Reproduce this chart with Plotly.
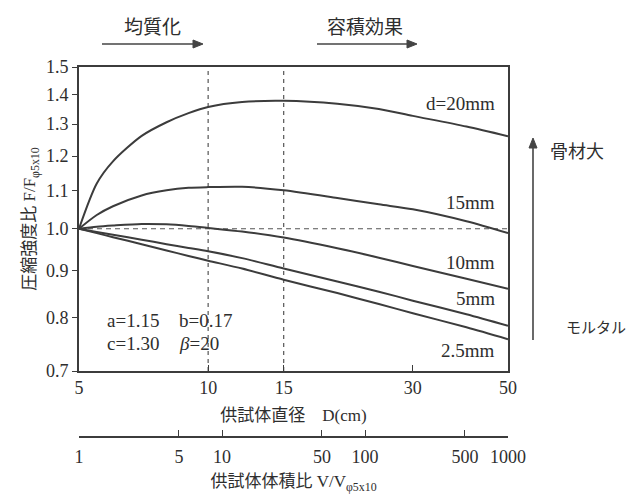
import math
import plotly.graph_objects as go

# ---- data ----
diameter_cm = [5, 5.5, 6, 7, 8, 9, 10, 12, 15, 20, 25, 30, 40, 50]
ratio_20mm = [1.000, 1.120, 1.184, 1.262, 1.306, 1.336, 1.357, 1.374, 1.378, 1.368, 1.350, 1.327, 1.292, 1.261]
ratio_15mm = [1.000, 1.035, 1.058, 1.087, 1.101, 1.108, 1.110, 1.111, 1.101, 1.080, 1.063, 1.050, 1.019, 0.989]
ratio_10mm = [1.000, 1.005, 1.008, 1.012, 1.011, 1.007, 1.002, 0.993, 0.978, 0.952, 0.930, 0.911, 0.882, 0.860]
ratio_5mm = [1.000, 0.992, 0.985, 0.973, 0.962, 0.953, 0.945, 0.929, 0.905, 0.876, 0.854, 0.835, 0.807, 0.784]
ratio_2_5mm = [1.000, 0.989, 0.979, 0.962, 0.947, 0.934, 0.923, 0.905, 0.880, 0.851, 0.828, 0.809, 0.781, 0.758]
series_labels = ["d=20mm", "15mm", "10mm", "5mm", "2.5mm"]

guide_diameters = [10, 15]
reference_ratio = 1.0
d_ticks = [5, 10, 15, 30, 50]
y_ticks = [0.7, 0.8, 0.9, 1.0, 1.1, 1.2, 1.3, 1.4, 1.5]
v_ticks = [1, 5, 10, 50, 100, 500, 1000]

LINE = "#3c3c3c"
TXT = "#2e2e2e"
ARROW = "#444444"
SERIF = "Liberation Serif, Noto Sans CJK JP, serif"
CJK = "Noto Sans CJK JP, sans-serif"

fig = go.Figure()

# dashed guides
for gd in guide_diameters:
    fig.add_trace(go.Scatter(x=[gd, gd], y=[y_ticks[0], y_ticks[-1]], mode="lines",
                             line=dict(color="#555", width=1.2, dash="4px,4px"),
                             hoverinfo="skip", showlegend=False))
fig.add_trace(go.Scatter(x=[d_ticks[0], d_ticks[-1]], y=[reference_ratio, reference_ratio], mode="lines",
                         line=dict(color="#555", width=1.2, dash="5px,4px"),
                         hoverinfo="skip", showlegend=False))

for name, ys in zip(series_labels, [ratio_20mm, ratio_15mm, ratio_10mm, ratio_5mm, ratio_2_5mm]):
    fig.add_trace(go.Scatter(x=diameter_cm, y=ys, mode="lines", name=name,
                             line=dict(color=LINE, width=2, shape="spline", smoothing=0.8),
                             showlegend=False))

# dummy trace for the volume-ratio axis
fig.add_trace(go.Scatter(x=[v_ticks[0], v_ticks[-1]], y=[1, 1], xaxis="x2", yaxis="y",
                         mode="markers", marker=dict(opacity=0), hoverinfo="skip", showlegend=False))

# plot-area geometry (pixels)
L, R, T, B2 = 79, 508, 67, 437
PW, PH = R - L, B2 - T
def px(xp):
    return (xp - L) / PW
def py(yp):
    return (B2 - yp) / PH

ann = []
# curve labels
label_y = [103, 202, 262, 298, 350]
for txt, yp in zip(series_labels, label_y):
    ann.append(dict(text=txt, x=px(497), y=py(yp), xref="paper", yref="paper",
                    xanchor="right", yanchor="middle", showarrow=False,
                    font=dict(family=SERIF, size=19, color=TXT)))
# parameters
for txt, xp, yp in [("a=1.15", 105, 320), ("b=0.17", 177, 320),
                    ("c=1.30", 105, 343), ("<i>β</i>=20", 177, 343)]:
    ann.append(dict(text=txt, x=px(xp), y=py(yp), xref="paper", yref="paper",
                    xanchor="left", yanchor="middle", showarrow=False,
                    font=dict(family=SERIF, size=19, color=TXT)))
# top labels
ann.append(dict(text="均質化", x=px(152), y=py(25), xref="paper", yref="paper",
                xanchor="center", yanchor="middle",
                showarrow=False, font=dict(family=CJK, size=19, color=TXT)))
ann.append(dict(text="容積効果", x=px(365), y=py(25), xref="paper", yref="paper",
                xanchor="center", yanchor="middle",
                showarrow=False, font=dict(family=CJK, size=19, color=TXT)))
# right labels
ann.append(dict(text="骨材大", x=px(548), y=py(150), xref="paper", yref="paper",
                xanchor="left", yanchor="middle", showarrow=False,
                font=dict(family=CJK, size=18, color=TXT)))
ann.append(dict(text="モルタル", x=px(564), y=py(326), xref="paper", yref="paper",
                xanchor="left", yanchor="middle", showarrow=False,
                font=dict(family=CJK, size=15, color=TXT)))

# arrows as shapes (paper coordinates)
shapes = []
def harrow(x0, x1, y, head=10, half=4):
    shapes.append(dict(type="line", xref="paper", yref="paper",
                       x0=px(x0), x1=px(x1 - head + 1), y0=py(y), y1=py(y),
                       line=dict(color=ARROW, width=1.6)))
    path = (f"M {px(x1)},{py(y)} L {px(x1 - head)},{py(y - half)} "
            f"L {px(x1 - head)},{py(y + half)} Z")
    shapes.append(dict(type="path", xref="paper", yref="paper", path=path,
                       fillcolor=ARROW, line=dict(color=ARROW, width=1)))
def varrow(x, y_tail, y_head, head=10, half=4):
    shapes.append(dict(type="line", xref="paper", yref="paper",
                       x0=px(x), x1=px(x), y0=py(y_tail), y1=py(y_head + head - 1),
                       line=dict(color=ARROW, width=1.6)))
    path = (f"M {px(x)},{py(y_head)} L {px(x - half)},{py(y_head + head)} "
            f"L {px(x + half)},{py(y_head + head)} Z")
    shapes.append(dict(type="path", xref="paper", yref="paper", path=path,
                       fillcolor=ARROW, line=dict(color=ARROW, width=1)))

harrow(102, 203, 44)
harrow(317, 417, 44)
varrow(533, 340, 138)

ydom0 = (B2 - 371) / PH

fig.update_layout(
    width=627, height=497,
    margin=dict(l=L, r=627 - R, t=T, b=497 - B2, autoexpand=False),
    paper_bgcolor="white", plot_bgcolor="white",
    annotations=ann, shapes=shapes,
    xaxis=dict(type="log", range=[math.log10(d_ticks[0]), math.log10(d_ticks[-1])],
               tickvals=d_ticks, ticktext=[str(v) for v in d_ticks],
               ticks="inside", ticklen=6, tickcolor=LINE, showgrid=False, zeroline=False,
               showline=True, linecolor=LINE, linewidth=1.6, mirror=True,
               anchor="y",
               tickfont=dict(family=SERIF, size=18, color=TXT),
               title=dict(text="供試体直径　D(cm)", standoff=12,
                          font=dict(family=SERIF, size=17, color=TXT))),
    xaxis2=dict(type="log", range=[0, 3], overlaying="x", anchor="free", position=0,
                side="bottom",
                tickvals=v_ticks, ticktext=[str(v) for v in v_ticks],
                ticks="inside", ticklen=6, tickcolor=LINE, showgrid=False, zeroline=False,
                showline=True, linecolor=LINE, linewidth=1.6,
                ticklabelstandoff=4,
                tickfont=dict(family=SERIF, size=18, color=TXT),
                title=dict(text="供試体体積比 V/V<sub>φ5x10</sub>", standoff=8,
                           font=dict(family=SERIF, size=17, color=TXT))),
    yaxis=dict(type="log", range=[math.log10(y_ticks[0]), math.log10(y_ticks[-1])],
               domain=[ydom0, 1],
               tickvals=y_ticks, ticktext=[f"{v:.1f}" for v in y_ticks],
               ticks="outside", ticklen=5, tickcolor=LINE, showgrid=False, zeroline=False,
               showline=True, linecolor=LINE, linewidth=1.6, mirror=True,
               tickfont=dict(family=SERIF, size=18, color=TXT),
               title=dict(text="圧縮強度比 F/F<sub>φ5x10</sub>", standoff=6,
                          font=dict(family=SERIF, size=17, color=TXT))),
)

fig.write_html("out.html", config={"displayModeBar": False},
               post_script="document.body.style.margin='0';")
